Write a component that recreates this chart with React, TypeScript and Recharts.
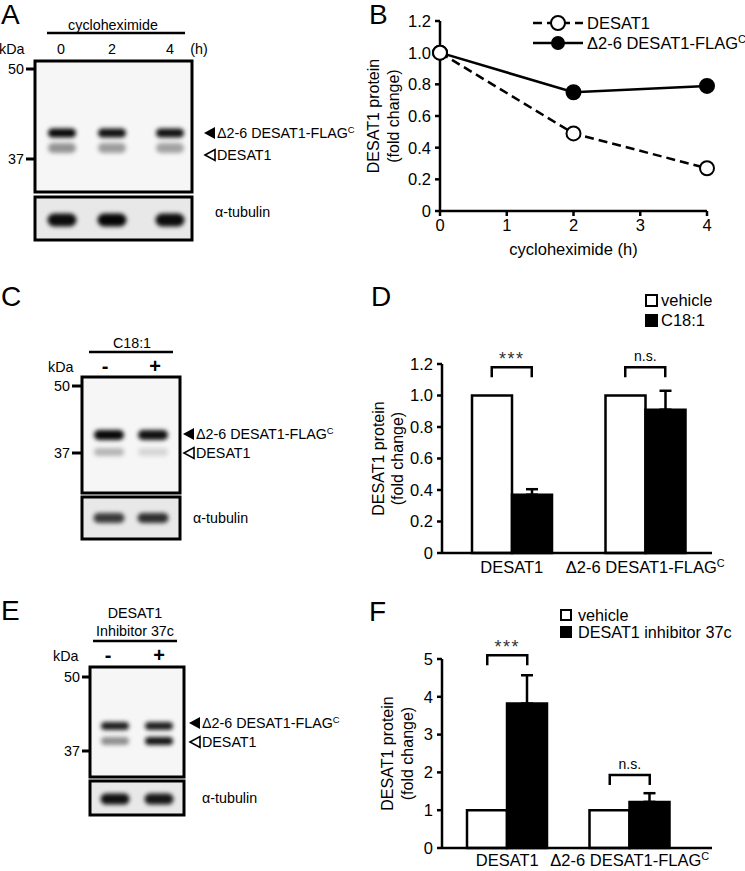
import React from "react";
import {
  LineChart,
  Line,
  BarChart,
  Bar,
  XAxis,
  YAxis,
  ErrorBar,
  ReferenceDot,
} from "recharts";

const FONT = "'Liberation Sans', Arial, Helvetica, sans-serif";
const FS = 16.5;
const BFS = 14.3;

// B: cycloheximide chase
const CHX_HOURS = [0, 2, 4];
const CHX_DESAT1 = [1.0, 0.49, 0.27];
const CHX_FLAG = [1.0, 0.75, 0.79];
const CHX_X_TICKS = [0, 1, 2, 3, 4];
const FOLD_TICKS = [0, 0.2, 0.4, 0.6, 0.8, 1.0, 1.2];

// D and F: grouped bars
const GROUPS = ["DESAT1", "Δ2-6 DESAT1-FLAGC"];
const OLEATE_VEHICLE = [1, 1];
const OLEATE_TREATED = [0.37, 0.91];
const OLEATE_SEM = [0.035, 0.12];
const OLEATE_SIG = ["***", "n.s."];
const INHIB_VEHICLE = [1, 1];
const INHIB_TREATED = [3.82, 1.22];
const INHIB_SEM = [0.75, 0.23];
const INHIB_SIG = ["***", "n.s."];
const INHIB_TICKS = [0, 1, 2, 3, 4, 5];

// blots: relative band darkness per lane
const BLOT_A_LANES = ["0", "2", "4"];
const BLOT_A_FLAG = [0.97, 0.93, 0.93];
const BLOT_A_ENDO = [0.4, 0.36, 0.34];
const BLOT_A_TUB = [0.95, 0.98, 0.95];
const BLOT_C_LANES = ["-", "+"];
const BLOT_C_FLAG = [0.97, 0.93];
const BLOT_C_ENDO = [0.26, 0.13];
const BLOT_C_TUB = [0.75, 0.8];
const BLOT_E_LANES = ["-", "+"];
const BLOT_E_FLAG = [0.88, 0.88];
const BLOT_E_ENDO = [0.42, 0.92];
const BLOT_E_TUB = [0.93, 0.9];

const fmtFold = (v: number) => (v === 0 ? "0" : v.toFixed(1));

function SupText({ x, y, text, size, anchor = "start", ...rest }: any) {
  const sup = text.endsWith("FLAGC");
  const main = sup ? text.slice(0, -1) : text;
  return (
    <text x={x} y={y} fontSize={size} textAnchor={anchor} fontFamily={FONT} fill="#000" {...rest}>
      {main}
      {sup && (
        <tspan dy={-size * 0.38} fontSize={size * 0.66}>
          C
        </tspan>
      )}
    </text>
  );
}

function YTitle({ viewBox, a, b }: any) {
  const cy = viewBox.y + viewBox.height / 2;
  const line = (x: number, t: string) => (
    <text
      x={x}
      y={cy}
      transform={`rotate(-90, ${x}, ${cy})`}
      textAnchor="middle"
      dominantBaseline="central"
      fontSize={16}
      fontFamily={FONT}
      fill="#000"
    >
      {t}
    </text>
  );
  return (
    <g>
      {line(viewBox.x + a, "DESAT1 protein")}
      {line(viewBox.x + b, "(fold change)")}
    </g>
  );
}

function GroupTick({ x, y, payload, dy }: any) {
  return <SupText x={x} y={y + dy} text={payload.value} size={FS} anchor="middle" />;
}

function Bracket({ cx, cy, label }: any) {
  const stars = label === "***";
  return (
    <g>
      <path
        d={`M${cx - 20},${cy + 10} V${cy} H${cx + 20} V${cy + 10}`}
        fill="none"
        stroke="#000"
        strokeWidth={2.5}
      />
      <text
        x={cx}
        y={stars ? cy - 2 : cy - 6}
        textAnchor="middle"
        fontSize={stars ? 18 : 14}
        letterSpacing={stars ? 1.5 : 0}
        fill={stars ? "#333" : "#000"}
        fontFamily={FONT}
      >
        {label}
      </text>
    </g>
  );
}

const axisStyle = { stroke: "#000", strokeWidth: 2.5 };
const tickStyle = { fill: "#000", fontSize: FS, fontFamily: FONT };

function ChxChart() {
  const data = CHX_HOURS.map((h, i) => ({ h, desat1: CHX_DESAT1[i], flag: CHX_FLAG[i] }));
  const dot = (fill: string) => (p: any) => (
    <circle key={`d-${fill}-${p.index}`} cx={p.cx} cy={p.cy} r={7} fill={fill} stroke="#000" strokeWidth={2} />
  );
  return (
    <LineChart width={405} height={260} data={data} margin={{ top: 21, right: 38, left: 0, bottom: 4 }}>
      <XAxis
        dataKey="h"
        type="number"
        domain={[0, 4]}
        ticks={CHX_X_TICKS}
        height={45}
        tickSize={5}
        tickMargin={3}
        axisLine={axisStyle}
        tickLine={axisStyle}
        tick={tickStyle}
        label={{ value: "cycloheximide (h)", position: "insideBottom", offset: 1, fill: "#000", fontSize: FS, fontFamily: FONT }}
      />
      <YAxis
        type="number"
        domain={[0, 1.2]}
        ticks={FOLD_TICKS}
        width={100}
        tickSize={5}
        tickMargin={4}
        tickFormatter={fmtFold}
        axisLine={axisStyle}
        tickLine={axisStyle}
        tick={tickStyle}
        label={<YTitle a={33} b={53} />}
      />
      <Line dataKey="flag" stroke="#000" strokeWidth={2.5} dot={dot("#000")} isAnimationActive={false} />
      <Line
        dataKey="desat1"
        stroke="#000"
        strokeWidth={2.5}
        strokeDasharray="9 5"
        dot={dot("#fff")}
        isAnimationActive={false}
      />
    </LineChart>
  );
}

function FoldBarChart({ vehicle, treated, sem, sig, domain, ticks, top, height, bottom, xh, padding, tickDy, title, fmt, bracketY }: any) {
  const data = GROUPS.map((g, i) => ({
    group: g,
    vehicle: vehicle[i],
    treated: treated[i],
    sem: [0, sem[i]],
  }));
  return (
    <BarChart width={405} height={height} data={data} barGap={0} margin={{ top, right: 33, left: 0, bottom }}>
      <XAxis
        dataKey="group"
        height={xh}
        tickSize={0}
        tickMargin={0}
        tickLine={false}
        axisLine={axisStyle}
        padding={padding}
        interval={0}
        tick={<GroupTick dy={tickDy} />}
      />
      <YAxis
        type="number"
        domain={domain}
        ticks={ticks}
        width={102}
        tickSize={5}
        tickMargin={4}
        tickFormatter={fmt}
        axisLine={axisStyle}
        tickLine={axisStyle}
        tick={tickStyle}
        label={<YTitle a={title[0]} b={title[1]} />}
      />
      <Bar dataKey="vehicle" fill="#fff" stroke="#000" strokeWidth={2.5} barSize={40} isAnimationActive={false} />
      <Bar dataKey="treated" fill="#000" stroke="#000" strokeWidth={2.5} barSize={40} isAnimationActive={false}>
        <ErrorBar dataKey="sem" width={6} stroke="#000" strokeWidth={2.5} direction="y" />
      </Bar>
      {GROUPS.map((g, i) => (
        <ReferenceDot
          key={g}
          x={g}
          y={bracketY[i]}
          ifOverflow="visible"
          shape={(p: any) => <Bracket cx={p.cx} cy={p.cy} label={sig[i]} />}
        />
      ))}
    </BarChart>
  );
}

function Band({ cx, cy, w, h, k }: any) {
  return (
    <rect
      x={cx - w / 2}
      y={cy - h / 2}
      width={w}
      height={h}
      rx={h / 2}
      fill="#000"
      fillOpacity={k}
      filter="url(#bandBlur)"
    />
  );
}

function Blot({ L, flag, endo, tub }: any) {
  const [bx, by, bx2, by2] = L.box;
  const [tx, ty, tx2, ty2] = L.tub;
  const pm = (t: string) => t === "+" || t === "-";
  return (
    <g fontFamily={FONT} fill="#000">
      <rect x={bx} y={by} width={bx2 - bx} height={by2 - by} fill="#f6f6f6" stroke="#000" strokeWidth={3} />
      <rect x={tx} y={ty} width={tx2 - tx} height={ty2 - ty} fill="#e8e8e8" stroke="#000" strokeWidth={3} />
      {L.laneX.map((x: number, i: number) => (
        <g key={i}>
          <Band cx={x} cy={L.flagY} w={L.bandW} h={L.flagH} k={flag[i]} />
          <Band cx={x} cy={L.endoY} w={L.bandW} h={L.endoH} k={endo[i]} />
          <Band cx={x} cy={L.tubY} w={L.bandW + 1} h={L.tubH} k={tub[i]} />
        </g>
      ))}
      {[
        ["50", L.y50],
        ["37", L.y37],
      ].map(([t, y]: any) => (
        <g key={t}>
          <text x={L.kdaRight} y={y + 5} textAnchor="end" fontSize={BFS}>
            {t}
          </text>
          <line x1={L.kdaRight + 2} x2={bx} y1={y} y2={y} stroke="#000" strokeWidth={3} />
        </g>
      ))}
      <text x={L.kdaX} y={L.headY + 5} fontSize={BFS}>
        kDa
      </text>
      {L.labels.map((t: string, i: number) => (
        <text
          key={i}
          x={L.labelX[i]}
          y={L.headY + (pm(t) ? 6 : 5)}
          textAnchor="middle"
          fontSize={pm(t) ? 20 : BFS}
          fontWeight={pm(t) ? "bold" : "normal"}
        >
          {t}
        </text>
      ))}
      <line x1={L.bar[0]} x2={L.bar[1]} y1={L.bar[2]} y2={L.bar[2]} stroke="#000" strokeWidth={2.5} />
      <polygon
        points={`${L.arrowX},${L.flagLab} ${L.arrowX + 11},${L.flagLab - 6} ${L.arrowX + 11},${L.flagLab + 6}`}
        fill="#000"
      />
      <polygon
        points={`${L.arrowX + 1},${L.endoLab} ${L.arrowX + 11},${L.endoLab - 5.5} ${L.arrowX + 11},${L.endoLab + 5.5}`}
        fill="#fff"
        stroke="#000"
        strokeWidth={1.6}
      />
      <SupText x={L.arrowX + 13} y={L.flagLab + 5} text="Δ2-6 DESAT1-FLAGC" size={BFS} />
      <SupText x={L.arrowX + 13} y={L.endoLab + 5} text="DESAT1" size={BFS} />
      <text x={L.tubLab[0]} y={L.tubLab[1] + 5} fontSize={BFS}>
        α-tubulin
      </text>
    </g>
  );
}

const LAYOUT_A = {
  box: [35, 61, 192, 192],
  tub: [35, 197, 192, 240],
  laneX: [62, 112, 170],
  bandW: 28,
  flagY: 133,
  flagH: 9,
  endoY: 148,
  endoH: 10,
  tubY: 220,
  tubH: 13,
  y50: 69,
  y37: 159,
  kdaRight: 24,
  kdaX: -1,
  headY: 49,
  labels: [...BLOT_A_LANES, "(h)"],
  labelX: [61, 112, 170, 199],
  bar: [47, 185, 33],
  arrowX: 204,
  flagLab: 133,
  endoLab: 155,
  tubLab: [215, 212],
};
const LAYOUT_C = {
  box: [82, 377, 180, 493],
  tub: [82, 497, 180, 539],
  laneX: [109, 153],
  bandW: 30,
  flagY: 435,
  flagH: 10,
  endoY: 452,
  endoH: 8,
  tubY: 518,
  tubH: 10,
  y50: 386,
  y37: 453,
  kdaRight: 70,
  kdaX: 48,
  headY: 367,
  labels: BLOT_C_LANES,
  labelX: [105, 155],
  bar: [89, 173, 352],
  arrowX: 183,
  flagLab: 434,
  endoLab: 453,
  tubLab: [193, 518],
};
const LAYOUT_E = {
  box: [90, 667, 184, 777],
  tub: [90, 781, 184, 815],
  laneX: [115, 159],
  bandW: 28,
  flagY: 726,
  flagH: 8,
  endoY: 741,
  endoH: 8,
  tubY: 799,
  tubH: 11,
  y50: 677,
  y37: 751,
  kdaRight: 80,
  kdaX: 53,
  headY: 656,
  labels: BLOT_E_LANES,
  labelX: [108, 159],
  bar: [93, 177, 641],
  arrowX: 189,
  flagLab: 723,
  endoLab: 742,
  tubLab: [202, 798],
};

function Overlay() {
  const letter = (t: string, x: number, y: number) => (
    <text x={x} y={y} fontSize={28} fontFamily={FONT} fill="#000">
      {t}
    </text>
  );
  return (
    <svg width={745} height={871} style={{ position: "absolute", left: 0, top: 0 }}>
      <defs>
        <filter id="bandBlur" x="-50%" y="-150%" width="200%" height="400%">
          <feGaussianBlur stdDeviation="1.9" />
        </filter>
      </defs>
      {letter("A", 1, 24)}
      {letter("B", 369, 24)}
      {letter("C", 1, 306)}
      {letter("D", 371, 306)}
      {letter("E", 1, 620)}
      {letter("F", 369, 621)}

      <text x={113} y={30} textAnchor="middle" fontSize={BFS} fontFamily={FONT}>
        cycloheximide
      </text>
      <Blot L={LAYOUT_A} flag={BLOT_A_FLAG} endo={BLOT_A_ENDO} tub={BLOT_A_TUB} />

      <text x={132} y={348} textAnchor="middle" fontSize={BFS} fontFamily={FONT}>
        C18:1
      </text>
      <Blot L={LAYOUT_C} flag={BLOT_C_FLAG} endo={BLOT_C_ENDO} tub={BLOT_C_TUB} />

      <text x={135} y={618} textAnchor="middle" fontSize={BFS} fontFamily={FONT}>
        DESAT1
      </text>
      <text x={135} y={636} textAnchor="middle" fontSize={BFS} fontFamily={FONT}>
        Inhibitor 37c
      </text>
      <Blot L={LAYOUT_E} flag={BLOT_E_FLAG} endo={BLOT_E_ENDO} tub={BLOT_E_TUB} />

      {/* legend B */}
      <g fontFamily={FONT} fontSize={FS}>
        <line x1={533} x2={583} y1={23} y2={23} stroke="#000" strokeWidth={2.5} strokeDasharray="9 5" />
        <circle cx={558} cy={23} r={7} fill="#fff" stroke="#000" strokeWidth={2} />
        <text x={587} y={29}>DESAT1</text>
        <line x1={533} x2={583} y1={43} y2={43} stroke="#000" strokeWidth={2.5} />
        <circle cx={558} cy={43} r={7} fill="#000" />
        <SupText x={587} y={49} text="Δ2-6 DESAT1-FLAGC" size={FS} />
      </g>
      {/* legend D */}
      <g fontFamily={FONT} fontSize={FS}>
        <rect x={646} y={295} width={11} height={11} fill="#fff" stroke="#000" strokeWidth={2} />
        <text x={661} y={306}>vehicle</text>
        <rect x={645} y={314} width={13} height={13} fill="#000" />
        <text x={661} y={326}>C18:1</text>
      </g>
      {/* legend F */}
      <g fontFamily={FONT} fontSize={16.2}>
        <rect x={561} y={610} width={10} height={10} fill="#fff" stroke="#000" strokeWidth={2} />
        <text x={578} y={621}>vehicle</text>
        <rect x={560} y={626} width={12} height={12} fill="#000" />
        <text x={578} y={638}>DESAT1 inhibitor 37c</text>
      </g>
    </svg>
  );
}

export default function App() {
  return (
    <div
      style={{
        position: "absolute",
        left: 0,
        top: 0,
        width: 745,
        height: 871,
        background: "#fff",
        overflow: "hidden",
        fontFamily: FONT,
      }}
    >
      <Overlay />
      <div style={{ position: "absolute", left: 340, top: 0 }}>
        <ChxChart />
      </div>
      <div style={{ position: "absolute", left: 340, top: 280 }}>
        <FoldBarChart
          vehicle={OLEATE_VEHICLE}
          treated={OLEATE_TREATED}
          sem={OLEATE_SEM}
          sig={OLEATE_SIG}
          domain={[0, 1.2]}
          ticks={FOLD_TICKS}
          fmt={fmtFold}
          top={84}
          height={310}
          bottom={7}
          xh={30}
          padding={{ left: 3, right: 0 }}
          tickDy={20}
          title={[38, 57]}
          bracketY={[1.18, 1.18]}
        />
      </div>
      <div style={{ position: "absolute", left: 340, top: 590 }}>
        <FoldBarChart
          vehicle={INHIB_VEHICLE}
          treated={INHIB_TREATED}
          sem={INHIB_SEM}
          sig={INHIB_SIG}
          domain={[0, 5]}
          ticks={INHIB_TICKS}
          fmt={(v: number) => String(v)}
          top={69}
          height={281}
          bottom={3}
          xh={20}
          padding={{ left: 4, right: 21 }}
          tickDy={18}
          title={[47, 67]}
          bracketY={[5.1, 1.93]}
        />
      </div>
    </div>
  );
}
